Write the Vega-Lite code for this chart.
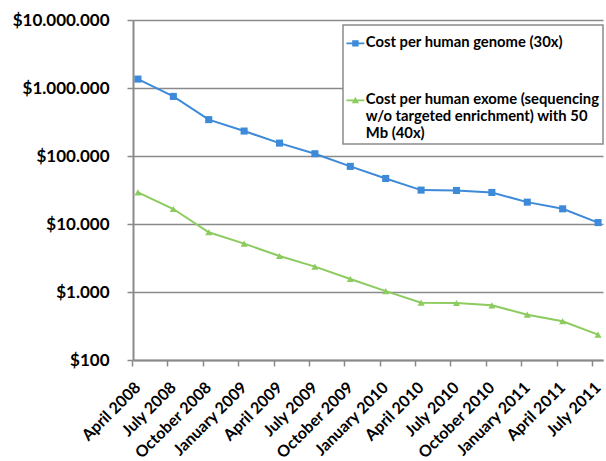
{
  "$schema": "https://vega.github.io/schema/vega-lite/v6.json",
  "width": 470,
  "height": 340,
  "autosize": {"type": "none"},
  "padding": {"left": 133, "top": 20, "right": 3, "bottom": 101},
  "background": "white",
  "config": {
    "font": "Lato",
    "view": {"stroke": null},
    "axis": {"labelFont": "Lato", "labelFontWeight": "bold", "labelColor": "black"},
    "legend": {
      "orient": "none", "legendX": 210, "legendY": 5, "title": null,
      "fillColor": "white", "strokeColor": "#8a8a8a", "strokeWidth": 1.5, "padding": 3,
      "labelFontSize": 14.8, "labelFontWeight": "bold", "labelColor": "black", "labelFont": "Lato",
      "labelLineHeight": 18, "labelBaseline": "top", "labelOffset": 3,
      "labelLimit": 400, "symbolSize": 4, "symbolOffset": 2, "symbolStrokeWidth": 0, "rowPadding": 34
    }
  },
  "data": {
    "values": [
      {"date": "April 2008", "series": "genome", "cost": 1352982},
      {"date": "July 2008", "series": "genome", "cost": 752080},
      {"date": "October 2008", "series": "genome", "cost": 342502},
      {"date": "January 2009", "series": "genome", "cost": 232735},
      {"date": "April 2009", "series": "genome", "cost": 154714},
      {"date": "July 2009", "series": "genome", "cost": 108065},
      {"date": "October 2009", "series": "genome", "cost": 70333},
      {"date": "January 2010", "series": "genome", "cost": 46774},
      {"date": "April 2010", "series": "genome", "cost": 31512},
      {"date": "July 2010", "series": "genome", "cost": 31125},
      {"date": "October 2010", "series": "genome", "cost": 29092},
      {"date": "January 2011", "series": "genome", "cost": 20963},
      {"date": "April 2011", "series": "genome", "cost": 16712},
      {"date": "July 2011", "series": "genome", "cost": 10497},
      {"date": "April 2008", "series": "exome", "cost": 29200},
      {"date": "July 2008", "series": "exome", "cost": 16600},
      {"date": "October 2008", "series": "exome", "cost": 7550},
      {"date": "January 2009", "series": "exome", "cost": 5140},
      {"date": "April 2009", "series": "exome", "cost": 3380},
      {"date": "July 2009", "series": "exome", "cost": 2360},
      {"date": "October 2009", "series": "exome", "cost": 1550},
      {"date": "January 2010", "series": "exome", "cost": 1030},
      {"date": "April 2010", "series": "exome", "cost": 697},
      {"date": "July 2010", "series": "exome", "cost": 689},
      {"date": "October 2010", "series": "exome", "cost": 637},
      {"date": "January 2011", "series": "exome", "cost": 464},
      {"date": "April 2011", "series": "exome", "cost": 371},
      {"date": "July 2011", "series": "exome", "cost": 236}
    ]
  },
  "resolve": {"axis": {"y": "independent"}},
  "encoding": {
    "x": {
      "field": "date", "type": "ordinal", "sort": null,
      "scale": {"type": "point", "padding": 0.14},
      "axis": {
        "title": null, "labelAngle": -45, "labelFontSize": 16,
        "domainColor": "#8a8a8a", "domainWidth": 2,
        "tickColor": "#8a8a8a", "tickSize": 6, "tickWidth": 1.5, "tickOffset": -6,
        "labelPadding": 13, "grid": false
      }
    },
    "color": {
      "field": "series", "type": "nominal",
      "scale": {"domain": ["genome", "exome"], "range": ["#3d8ad8", "#8ccb5e"]},
      "legend": {
        "labelExpr": "datum.value == 'exome' ? ['Cost per human exome (sequencing', 'w/o targeted enrichment) with 50', 'Mb (40x)'] : 'Cost per human genome (30x)'"
      }
    }
  },
  "layer": [
    {
      "mark": {"type": "line", "strokeWidth": 2},
      "encoding": {
        "y": {
          "field": "cost", "type": "quantitative",
          "scale": {"type": "log", "domain": [100, 10000000]},
          "axis": {
            "title": null,
            "values": [100, 1000, 10000, 100000, 1000000, 10000000],
            "labelExpr": "'$' + replace(format(datum.value, ',d'), regexp(',', 'g'), '.')",
            "labelFontSize": 17, "labelPadding": 18,
            "domainColor": "#8a8a8a", "domainWidth": 2,
            "tickColor": "#8a8a8a", "tickWidth": 1.5, "tickSize": 6,
            "grid": true, "gridColor": "#8a8a8a", "gridWidth": 1.5
          }
        }
      }
    },
    {
      "transform": [{"filter": "datum.series == 'genome'"}],
      "mark": {"type": "point", "shape": "square", "filled": true, "size": 50, "opacity": 1},
      "encoding": {"y": {"field": "cost", "type": "quantitative", "axis": null}}
    },
    {
      "transform": [{"filter": "datum.series == 'exome'"}],
      "mark": {"type": "point", "shape": "triangle-up", "filled": true, "size": 50, "opacity": 1},
      "encoding": {"y": {"field": "cost", "type": "quantitative", "axis": null}}
    },
    {
      "transform": [{"filter": "datum.cost < 0"}],
      "mark": {"type": "point", "filled": true, "opacity": 1},
      "encoding": {
        "y": {"field": "cost", "type": "quantitative", "axis": null},
        "shape": {"field": "series", "type": "nominal",
          "scale": {"domain": ["genome", "exome"], "range": ["M-9,7.1H9V8.9H-9Z M-3.2,4.8H3.2V11.2H-3.2Z", "M-9,7.1H9V8.9H-9Z M0,4.4L3.6,10.8H-3.6Z"]},
          "legend": {
            "labelExpr": "datum.value == 'exome' ? ['Cost per human exome (sequencing', 'w/o targeted enrichment) with 50', 'Mb (40x)'] : 'Cost per human genome (30x)'"
          }}
      }
    }
  ]
}
